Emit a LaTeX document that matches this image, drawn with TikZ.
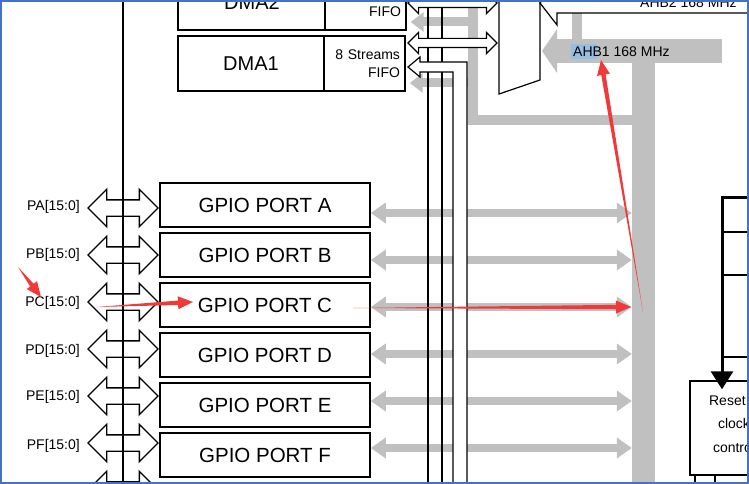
\documentclass[tikz,border=0pt]{standalone}
\usepackage{fontspec}
\setmainfont{Liberation Sans}
\usetikzlibrary{shapes.arrows, arrows.meta, calc}
\definecolor{busgray}{RGB}{192,192,192}
\definecolor{frameblue}{RGB}{68,114,196}
\definecolor{markred}{RGB}{240,58,58}
\definecolor{selblue}{RGB}{150,190,226}

% tapered red mark arrow: \markarrow{tail}{tip}
\newcommand\markarrow[2]{%
  \coordinate (mk-h) at ($(#2)!15pt!(#1)$);
  \fill[markred] (#1) -- ($(mk-h)!2.2pt!90:(#2)$) -- ($(mk-h)!6.5pt!90:(#2)$) -- (#2)
    -- ($(mk-h)!6.5pt!-90:(#2)$) -- ($(mk-h)!2.2pt!-90:(#2)$) -- cycle;}

\begin{document}
\begin{tikzpicture}[
    x=1pt, y=-1pt,
    font=\fontsize{14}{17}\selectfont,
    % Styles
    gpiobox/.style={draw, line width=1.6pt, fill=white, minimum width=210pt, minimum height=44pt, inner sep=0pt, font=\fontsize{20.5}{24}\selectfont},
    portlabel/.style={anchor=east, inner sep=0pt},
    portlink/.style={double arrow, draw, line width=1.4pt, fill=white, minimum height=70pt, minimum width=36pt, double arrow head extend=10.5pt, inner xsep=0pt, inner ysep=7.5pt},
    dmalink/.style={double arrow, draw, line width=1.2pt, fill=white, minimum width=20pt, double arrow head extend=6pt, inner xsep=0pt, inner ysep=4pt},
    dmabox/.style={draw, line width=1.4pt, fill=white, minimum height=55pt, inner sep=0pt},
    fifobox/.style={dmabox, minimum width=81pt, align=right, text width=71pt, font=\fontsize{14}{18}\selectfont},
    busbar/.style={fill=busgray, inner sep=0pt},
    ahbarrow/.style={draw=busgray, line width=8pt, arrows={Triangle[length=15pt,width=20pt]-Triangle[length=15pt,width=20pt]}},
    dmafeed/.style={draw=busgray, line width=9pt, arrows={Triangle[length=13pt,width=19pt]-}},
    ahbmain/.style={draw=busgray, line width=24pt, arrows={-Triangle[length=15pt,width=43pt]}},
    pipe/.style={line width=1.2pt},
    hollow/.style={draw, line width=1.2pt, fill=white},
    gpiobus/.style={line width=2pt},
    rccarrow/.style={line width=3pt, arrows={-Triangle[length=18pt,width=22pt]}},
    rccbox/.style={draw, line width=1.4pt, fill=white, minimum width=110pt, minimum height=94pt, inner sep=0pt}
]
\useasboundingbox (0,0) rectangle (749,484);
\clip (0,0) rectangle (749,484);
\fill[white] (0,0) rectangle (749,484);

% ----------------------------------------------------
% AHB1 bus (grey)
% ----------------------------------------------------
\node[busbar, minimum width=23pt, minimum height=480pt] (ahbbar) at (643.5,290) {};
\coordinate (ahb1-end) at (722,51);
\coordinate (ahb1-tip) at (542,51);
\draw[ahbmain] (ahb1-end) -- (ahb1-tip);
\fill[busgray] (572,10) rectangle (582,40);
\fill[busgray] (468,-10) rectangle (478,125);
\fill[busgray] (468,115) rectangle (640,125);
\fill[selblue] (571,44) rectangle (597,59);
\node[anchor=west, inner sep=0pt] (ahb1-label) at (573,52) {AHB1 168 MHz};

% ----------------------------------------------------
% DMA controllers
% ----------------------------------------------------
\node[dmabox, minimum width=148pt, font=\fontsize{20}{24}\selectfont] (dma2) at (252,2.5) {DMA2};
\node[fifobox] (dma2-fifo) at (365.5,2.5) {8 Streams\\FIFO};
\node[dmabox, minimum width=146pt, font=\fontsize{20}{24}\selectfont] (dma1) at (251,63.5) {DMA1};
\node[fifobox] (dma1-fifo) at (364.5,63.5) {8 Streams\\FIFO};

\draw[dmafeed] ([xshift=4pt,yshift=-19.5pt]dma2-fifo.east) -- ++(65,0);
\draw[dmafeed] ([xshift=4pt,yshift=-19.5pt]dma1-fifo.east) -- ++(65,0);

% ----------------------------------------------------
% GPIO ports
% ----------------------------------------------------
\node[gpiobox] (gpioa) at (265,205) {GPIO PORT A};
\node[gpiobox] (gpiob) at (265,255) {GPIO PORT B};
\node[gpiobox] (gpioc) at (265,305) {GPIO PORT C};
\node[gpiobox] (gpiod) at (265,355) {GPIO PORT D};
\node[gpiobox] (gpioe) at (265,405) {GPIO PORT E};
\node[gpiobox] (gpiof) at (265,455) {GPIO PORT F};

\node[portlabel] (pa) at (80,207) {PA[15:0]};
\node[portlabel] (pb) at (80,255) {PB[15:0]};
\node[portlabel] (pc) at (80,303) {PC[15:0]};
\node[portlabel] (pd) at (80,351) {PD[15:0]};
\node[portlabel] (pe) at (80,397) {PE[15:0]};
\node[portlabel] (pf) at (80,446) {PF[15:0]};

\node[portlink] (pa-link) at (123,208) {};
\node[portlink] (pb-link) at (123,255) {};
\node[portlink] (pc-link) at (123,302) {};
\node[portlink] (pd-link) at (123,349) {};
\node[portlink] (pe-link) at (123,396) {};
\node[portlink] (pf-link) at (123,443) {};
\node[portlink] (pg-link) at (123,490) {};

% grey links run under the peripheral buses
\draw[ahbarrow] ([yshift=-5pt]pa-link.east -| gpioa.east) -- ([yshift=-5pt]pa-link.east -| ahbbar.west);
\draw[ahbarrow] ([yshift=-5pt]pb-link.east -| gpiob.east) -- ([yshift=-5pt]pb-link.east -| ahbbar.west);
\draw[ahbarrow] ([yshift=-5pt]pc-link.east -| gpioc.east) -- ([yshift=-5pt]pc-link.east -| ahbbar.west);
\draw[ahbarrow] ([yshift=-5pt]pd-link.east -| gpiod.east) -- ([yshift=-5pt]pd-link.east -| ahbbar.west);
\draw[ahbarrow] ([yshift=-5pt]pe-link.east -| gpioe.east) -- ([yshift=-5pt]pe-link.east -| ahbbar.west);
\draw[ahbarrow] ([yshift=-5pt]pf-link.east -| gpiof.east) -- ([yshift=-5pt]pf-link.east -| ahbbar.west);

% ----------------------------------------------------
% Peripheral buses from the DMAs
% ----------------------------------------------------
\draw[pipe] (428,-10) -- (428,500);
\draw[pipe] (442,-10) -- (442,500);
\draw[hollow] (408,67) -- (420,57) -- (420,62) -- (467,62) -- (467,500) -- (453,500)
    -- (453,72) -- (420,72) -- (420,77) -- cycle;
\node[dmalink, minimum height=89pt] (dma2-link) at (452.5,3) {};
\node[dmalink, minimum height=89pt] (dma1-link) at (452.5,43) {};

% Bus matrix and AHB2
\draw[hollow] (499,-30) -- (499,94) -- (540,80) -- (540,-30);
\draw[hollow] (540,3) -- (557,-19) -- (557,-7) -- (760,-7) -- (760,13) -- (557,13) -- (557,25) -- cycle;
\node[anchor=base west, inner sep=0pt] (ahb2-label) at (640,7.5) {AHB2 168 MHz};

% ----------------------------------------------------
% GPIO side bus
% ----------------------------------------------------
\coordinate (gpiobus-top) at (123,-10);
\coordinate (gpiobus-bot) at (123,500);
\draw[gpiobus] (gpiobus-top) -- (gpiobus-bot);

% ----------------------------------------------------
% Reset & clock control
% ----------------------------------------------------
\coordinate (rcc-feed) at (722,197);
\draw[line width=3pt] (rcc-feed) -- ++(40,0);
\draw[line width=1.4pt] (722,232) -- ++(40,0);
\draw[line width=1.4pt] (722,275) -- ++(40,0);
\draw[line width=1.4pt] (722,357) -- ++(40,0);
\node[rccbox] (rcc) at (745,428) {};
\node[align=center, font=\fontsize{14}{23.5}\selectfont] (rcc-text) at (734,424) {Reset \&\\clock\\control};
\draw[line width=1.4pt] (695,475) -- ++(0,15);
\draw[line width=1.4pt] (715,475) -- ++(0,15);
\draw[rccarrow] ([yshift=1.5pt]rcc-feed) -- ([yshift=-9pt]rcc.north -| rcc-feed);

% ----------------------------------------------------
% Red marks
% ----------------------------------------------------
\coordinate (mk1-s) at (18,267);
\coordinate (mk1-e) at (41,297);
\coordinate (mk2-s) at (97,307);
\coordinate (mk2-e) at (193,302);
\coordinate (mk3-s) at (353,308);
\coordinate (mk3-e) at (631,307);
\coordinate (mk4-s) at (643,312);
\coordinate (mk4-e) at (601,60);
\markarrow{mk1-s}{mk1-e}
\markarrow{mk2-s}{mk2-e}
\markarrow{mk3-s}{mk3-e}
\markarrow{mk4-s}{mk4-e}

% Frame
\draw[frameblue, line width=2pt] (1,1) rectangle (748,483);
\end{tikzpicture}
\end{document}
